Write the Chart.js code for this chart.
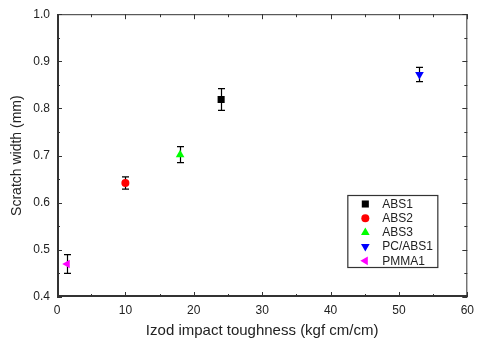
<!DOCTYPE html>
<html>
<head>
<meta charset="utf-8">
<script src="https://cdn.jsdelivr.net/npm/chart.js@4/dist/chart.umd.min.js"></script>
<style>
  html, body { margin: 0; padding: 0; background: #fff; }
  #wrap { width: 480px; height: 342px; }
</style>
</head>
<body>
<div id="wrap"><canvas id="scratchChart" width="480" height="342"></canvas></div>
<script>
// samples
const labels = ["ABS1", "ABS2", "ABS3", "PC/ABS1", "PMMA1"];
const toughness = [24, 10, 18, 53, 1.5];
const scratchWidth = [0.819, 0.642, 0.702, 0.872, 0.470];
const scratchErr = [0.023, 0.013, 0.017, 0.015, 0.020];

const colors = ["#000000", "#ff0000", "#00ff00", "#0000ff", "#ff00ff"];
const pointStyles = ["rect", "circle", "triangle", "triangle", "triangle"];
const rotations = [0, 0, 0, 180, 270];
const radii = [5, 4, 5, 5, 5];

const axisColor = "#333333";
const textColor = "#222222";
const fontFamily = "'Liberation Sans', Arial, sans-serif";

const datasets = labels.map(function (name, i) {
  return {
    label: name,
    data: [{ x: toughness[i], y: scratchWidth[i] }],
    backgroundColor: colors[i],
    borderColor: colors[i],
    borderWidth: 0,
    pointStyle: pointStyles[i],
    rotation: rotations[i],
    pointRadius: radii[i],
    errY: [scratchErr[i]]
  };
});

// vertical error bars with caps, drawn under the markers
const errorBars = {
  id: "errorBars",
  beforeDatasetsDraw(chart) {
    const ctx = chart.ctx;
    const xs = chart.scales.x;
    const ys = chart.scales.y;
    ctx.save();
    ctx.strokeStyle = "#000";
    ctx.lineWidth = 1.2;
    chart.data.datasets.forEach(function (ds) {
      ds.data.forEach(function (p, j) {
        const e = ds.errY[j];
        const px = Math.round(xs.getPixelForValue(p.x)) + 0.5;
        const top = ys.getPixelForValue(p.y + e);
        const bot = ys.getPixelForValue(p.y - e);
        ctx.beginPath();
        ctx.moveTo(px, top);
        ctx.lineTo(px, bot);
        ctx.moveTo(px - 3.5, top);
        ctx.lineTo(px + 3.5, top);
        ctx.moveTo(px - 3.5, bot);
        ctx.lineTo(px + 3.5, bot);
        ctx.stroke();
      });
    });
    ctx.restore();
  }
};

// frame with inward ticks on all four sides
const frameTicks = {
  id: "frameTicks",
  afterDraw(chart) {
    const ctx = chart.ctx;
    const a = chart.chartArea;
    const xs = chart.scales.x;
    const ys = chart.scales.y;
    ctx.save();
    ctx.strokeStyle = axisColor;

    // top and right, thin
    ctx.lineWidth = 1;
    ctx.beginPath();
    ctx.moveTo(a.left, a.top + 0.5);
    ctx.lineTo(a.right, a.top + 0.5);
    ctx.moveTo(a.right - 0.5, a.top);
    ctx.lineTo(a.right - 0.5, a.bottom);
    ctx.stroke();

    // left and bottom, heavier
    ctx.lineWidth = 2;
    ctx.beginPath();
    ctx.moveTo(a.left + 1, a.top);
    ctx.lineTo(a.left + 1, a.bottom);
    ctx.moveTo(a.left, a.bottom - 1);
    ctx.lineTo(a.right, a.bottom - 1);
    ctx.stroke();

    ctx.lineWidth = 1;
    ctx.beginPath();
    for (let v = 0; v <= 60; v += 5) {
      const px = Math.round(xs.getPixelForValue(v)) + 0.5;
      const len = v % 10 === 0 ? 5 : 3;
      ctx.moveTo(px, a.bottom);
      ctx.lineTo(px, a.bottom - len);
      ctx.moveTo(px, a.top);
      ctx.lineTo(px, a.top + len);
    }
    for (let k = 0; k <= 12; k++) {
      const v = 0.4 + k * 0.05;
      const py = Math.round(ys.getPixelForValue(v)) + 0.5;
      const len = k % 2 === 0 ? 5 : 3;
      ctx.moveTo(a.left, py);
      ctx.lineTo(a.left + len, py);
      ctx.moveTo(a.right, py);
      ctx.lineTo(a.right - len, py);
    }
    ctx.stroke();
    ctx.restore();
  }
};

// boxed legend inside the plot, lower right
const boxLegend = {
  id: "boxLegend",
  afterDraw(chart) {
    const ctx = chart.ctx;
    const a = chart.chartArea;
    const bx = a.right - 120;
    const by = a.bottom - 102;
    const bw = 90;
    const bh = 72;
    ctx.save();
    ctx.fillStyle = "#fff";
    ctx.fillRect(bx, by, bw, bh);
    ctx.strokeStyle = axisColor;
    ctx.lineWidth = 1.2;
    ctx.strokeRect(bx + 0.5, by + 0.5, bw, bh);
    ctx.font = "12px " + fontFamily;
    ctx.textBaseline = "middle";
    chart.data.datasets.forEach(function (ds, i) {
      const cy = by + 9 + i * 14.2;
      ctx.fillStyle = ds.backgroundColor;
      ctx.strokeStyle = ds.borderColor;
      Chart.helpers.drawPoint(ctx, {
        pointStyle: ds.pointStyle,
        rotation: ds.rotation,
        radius: ds.pointRadius,
        borderWidth: 0
      }, bx + 18, cy);
      ctx.fillStyle = textColor;
      ctx.fillText(ds.label, bx + 35, cy + 0.5);
    });
    ctx.restore();
  }
};

new Chart(document.getElementById("scratchChart").getContext("2d"), {
  type: "scatter",
  data: { datasets: datasets },
  options: {
    responsive: false,
    animation: false,
    layout: { padding: { top: 12, right: 12, left: 0, bottom: 0 } },
    plugins: {
      legend: { display: false },
      tooltip: { enabled: false }
    },
    scales: {
      x: {
        type: "linear",
        min: 0,
        max: 60,
        grid: { display: false, drawTicks: false },
        border: { display: false },
        ticks: {
          stepSize: 10,
          padding: 6,
          color: textColor,
          font: { family: fontFamily, size: 12 }
        },
        title: {
          display: true,
          text: "Izod impact toughness (kgf cm/cm)",
          color: textColor,
          font: { family: fontFamily, size: 15 },
          padding: { top: 0, bottom: 2 }
        },
        afterFit(scale) { scale.height = 45; }
      },
      y: {
        type: "linear",
        min: 0.4,
        max: 1.0,
        grid: { display: false, drawTicks: false },
        border: { display: false },
        ticks: {
          stepSize: 0.1,
          padding: 7,
          color: textColor,
          font: { family: fontFamily, size: 12 },
          callback: function (v) { return v.toFixed(1); }
        },
        title: {
          display: true,
          text: "Scratch width (mm)",
          color: textColor,
          font: { family: fontFamily, size: 14 },
          padding: { top: 9, bottom: 0 }
        },
        afterFit(scale) { scale.width = 57; }
      }
    }
  },
  plugins: [errorBars, frameTicks, boxLegend]
});
</script>
</body>
</html>
